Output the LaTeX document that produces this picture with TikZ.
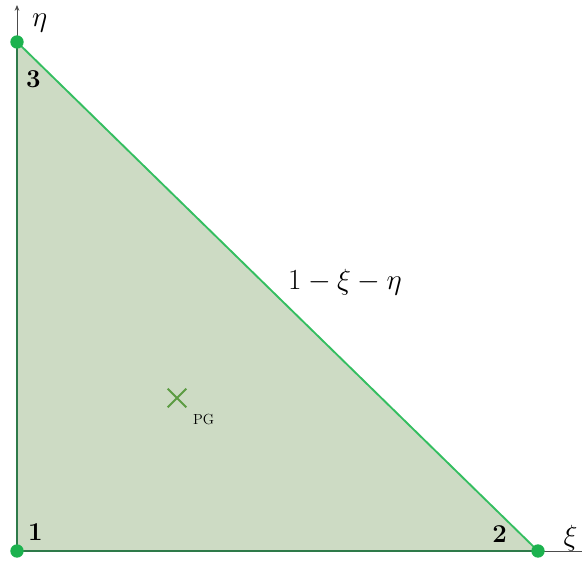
\documentclass[tikz,border=0pt]{standalone}
\usepackage{amsmath, amssymb}
\usepackage{xcolor}
\usepackage{tikz}
\usetikzlibrary{arrows.meta, positioning, calc, shapes.misc}

\definecolor{elemfill}{RGB}{205,219,196}
\definecolor{edgedark}{RGB}{46,122,74}
\definecolor{edgelight}{RGB}{52,190,96}
\definecolor{ptgreen}{RGB}{28,178,78}
\definecolor{pggreen}{RGB}{92,156,66}

\begin{document}
\begin{tikzpicture}[>=Stealth, x=0.03cm, y=0.03cm,
            axis/.style={draw=black!70, line width=0.7pt},
            edge/.style={line width=1.6pt},
            vert/.style={circle, fill=ptgreen, inner sep=0pt, minimum size=0.4cm},
            num/.style={inner sep=0pt, font=\fontsize{22}{25}\selectfont\bfseries},
            axlabel/.style={inner sep=0pt, font=\fontsize{23}{26}\selectfont}]

            \useasboundingbox (-17,-10) rectangle (565,551);

            \coordinate (p1) at (0,0);
            \coordinate (p2) at (521,0);
            \coordinate (p3) at (0,509);
            \coordinate (xiend) at (565,0);
            \coordinate (etaend) at (0,546);

            % axes
            \draw[axis] (p1) -- (xiend);
            \draw[axis, ->, >={Stealth[length=5pt, width=4pt]}] (p1) -- (etaend);
            \node[axlabel, above left=0cm and 0.13cm of xiend] (xi) {$\xi$};
            \node[axlabel, below right=0.27cm and 0.45cm of etaend] (eta) {$\eta$};

            % element
            \fill[elemfill] (p1) -- (p2) -- (p3) -- cycle;
            \draw[edge, edgedark] (p3) -- (p1) -- (p2);
            \draw[edge, edgelight] (p2) -- (p3);

            \node[vert] (v1) at (p1) {};
            \node[vert] (v2) at (p2) {};
            \node[vert] (v3) at (p3) {};

            \node[num, above right=0.3cm and 0.33cm of p1] (n1) {1};
            \node[num, above left=0.24cm and 0.93cm of p2] (n2) {2};
            \node[num, below right=0.84cm and 0.27cm of p3] (n3) {3};

            \node[inner sep=0pt, font=\fontsize{26}{30}\selectfont] (shape3) at (328,269) {$1-\xi-\eta$};

            % Gauss point
            \node[cross out, draw=pggreen, line width=1.7pt, minimum size=0.5cm, inner sep=0pt] (pg) at (160,153) {};
            \node[inner sep=0pt, font=\fontsize{12.5}{14}\selectfont, below right=0.2cm and 0.2cm of pg] (pglabel) {PG};
        \end{tikzpicture}
\end{document}
